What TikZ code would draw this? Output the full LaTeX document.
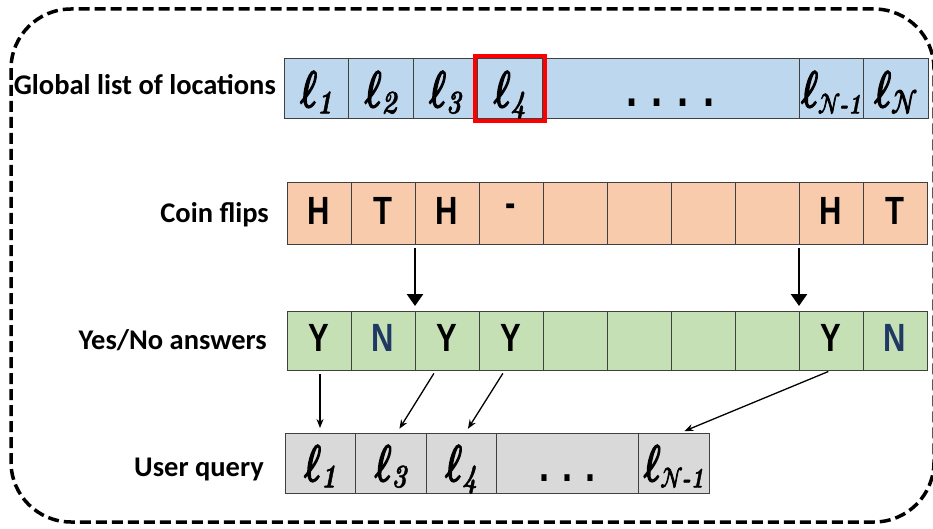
\documentclass[tikz,border=0pt]{standalone}
\usepackage{fontspec}
\usepackage{graphicx}
\usetikzlibrary{positioning,arrows.meta}

\newfontfamily\labelfont{Carlito}
\newfontfamily\cellfont{Liberation Sans}
\newfontfamily\ellfont{latinmodern-math.otf}[FakeBold=4]
\newfontfamily\subfont{lmroman10-bolditalic.otf}[FakeBold=1.5]

\definecolor{locblue}{HTML}{BDD7EE}
\definecolor{fliporange}{HTML}{F8CBAD}
\definecolor{ansgreen}{HTML}{C5E0B4}
\definecolor{querygray}{HTML}{D9D9D9}
\definecolor{noblue}{HTML}{203864}

\newcommand{\tallbox}[1]{\scalebox{1}[1.27]{#1}}
\newcommand{\loc}[1]{\tallbox{\makebox[56pt]{{\ellfont ℓ}\raisebox{-5pt}{\fontsize{26}{26}\selectfont\subfont #1}}}}
\newcommand{\calN}{{\ellfont\symbol{"1D4A9}}}
\newcommand{\celldots}[1]{\tallbox{\cellfont\bfseries #1}}

\tikzset{
  cell/.style={draw=black!75, line width=1pt, inner sep=0pt, outer sep=0pt},
  loccell/.style={cell, fill=locblue, minimum width=64.5pt, minimum height=60pt,
    text height=38pt, text depth=2pt, font=\fontsize{40}{40}\selectfont},
  flipcell/.style={cell, fill=fliporange, minimum width=64pt, minimum height=61pt,
    text depth=6pt, font=\cellfont\bfseries\fontsize{31}{31}\selectfont},
  anscell/.style={cell, fill=ansgreen, minimum width=64pt, minimum height=59pt,
    text depth=6pt, font=\cellfont\bfseries\fontsize{31}{31}\selectfont},
  querycell/.style={cell, fill=querygray, minimum width=70.5pt, minimum height=60pt,
    text height=38pt, text depth=2pt, font=\fontsize{40}{40}\selectfont},
  rowlabel/.style={anchor=east, inner sep=0pt, font=\labelfont\bfseries\fontsize{28.5}{28.5}\selectfont},
  hilite/.style={draw=red, line width=4pt},
  fliparrow/.style={-{Triangle[length=12pt,width=16pt]}, line width=2.7pt, shorten <=4pt, shorten >=5pt},
  maparrow/.style={-{Stealth[length=9pt,width=7pt]}, line width=1.3pt, shorten <=4pt, shorten >=5pt},
  frameline/.style={line width=3.5pt, dash pattern=on 11pt off 5pt, rounded corners=60pt}
}

\begin{document}
\begin{tikzpicture}[x=1pt,y=-1pt]
\useasboundingbox (0,0) rectangle (933,529);
\draw[frameline] (11,9) rectangle (934,522);

\node[rowlabel] (loclabel) at (276,85) {Global list of locations};
\node[loccell] (l1) at (316.25,89) {\loc{1}};
\node[loccell,right=0pt of l1] (l2) {\loc{2}};
\node[loccell,right=0pt of l2] (l3) {\loc{3}};
\node[loccell,right=0pt of l3] (l4) {\loc{4}};
\node[loccell,right=0pt of l4,minimum width=257pt] (ldots) {\celldots{. . . .}};
\node[loccell,right=0pt of ldots] (lNm) {\loc{\fontsize{22}{22}\selectfont\calN\kern-1pt-1}};
\node[loccell,right=0pt of lNm] (lN) {\loc{\calN}};
\draw[hilite] ([xshift=-2.5pt,yshift=2.5pt]l4.north west) rectangle ([xshift=2.5pt,yshift=-2.5pt]l4.south east);

\node[rowlabel] (fliplabel) at (269,215) {Coin flips};
\node[flipcell] (f1) at (319,213.5) {\tallbox{H}};
\node[flipcell,right=0pt of f1] (f2) {\tallbox{T}};
\node[flipcell,right=0pt of f2] (f3) {\tallbox{H}};
\node[flipcell,right=0pt of f3] (f4) {\tallbox{-}};
\node[flipcell,right=0pt of f4] (f5) {};
\node[flipcell,right=0pt of f5] (f6) {};
\node[flipcell,right=0pt of f6] (f7) {};
\node[flipcell,right=0pt of f7] (f8) {};
\node[flipcell,right=0pt of f8] (f9) {\tallbox{H}};
\node[flipcell,right=0pt of f9] (f10) {\tallbox{T}};

\node[rowlabel] (anslabel) at (267,340) {Yes/No answers};
\node[anscell] (a1) at (319,340.5) {\tallbox{Y}};
\node[anscell,right=0pt of a1] (a2) {\tallbox{\color{noblue}N}};
\node[anscell,right=0pt of a2] (a3) {\tallbox{Y}};
\node[anscell,right=0pt of a3] (a4) {\tallbox{Y}};
\node[anscell,right=0pt of a4] (a5) {};
\node[anscell,right=0pt of a5] (a6) {};
\node[anscell,right=0pt of a6] (a7) {};
\node[anscell,right=0pt of a7] (a8) {};
\node[anscell,right=0pt of a8] (a9) {\tallbox{Y}};
\node[anscell,right=0pt of a9] (a10) {\tallbox{\color{noblue}N}};

\node[rowlabel] (querylabel) at (264,469) {User query};
\node[querycell] (q1) at (320.25,463) {\loc{1}};
\node[querycell,right=0pt of q1] (q3) {\loc{3}};
\node[querycell,right=0pt of q3] (q4) {\loc{4}};
\node[querycell,right=0pt of q4,minimum width=142pt] (qdots) {\celldots{\fontsize{36}{36}\selectfont. . .}};
\node[querycell,right=0pt of qdots] (qNm) {\loc{\fontsize{22}{22}\selectfont\calN\kern-1pt-1}};

\draw[fliparrow] (f3.south west) -- (a3.north west);
\draw[fliparrow] (f9.south west) -- (a9.north west);

\draw[maparrow] ([xshift=1pt]a1.south) -- ([xshift=1pt]a1.south |- q1.north);
\draw[maparrow] ([xshift=-11pt]a3.south) -- ([xshift=6pt]q3.north);
\draw[maparrow] ([xshift=-6pt]a4.south) -- ([xshift=4pt]q4.north);
\draw[maparrow] ([xshift=1pt]a9.south) -- ([xshift=6pt]qNm.north);
%\draw[maparrow] (a10.south) -- (qNm.north);
\end{tikzpicture}
\end{document}
